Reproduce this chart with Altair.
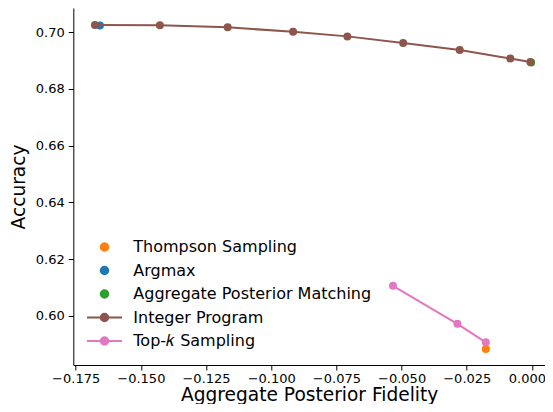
import altair as alt
import pandas as pd

# ---- data ----
series_names = ["Thompson Sampling", "Argmax", "Aggregate Posterior Matching",
                "Integer Program", "Top-𝑘 Sampling"]
series_colors = ["#ff7f0e", "#1f77b4", "#2ca02c", "#8c564b", "#e377c2"]

ts_x = [-0.0177]
ts_y = [0.5883]
argmax_x = [-0.1657]
argmax_y = [0.7023]
apm_x = [-0.0003]
apm_y = [0.6893]
ip_x = [-0.1676, -0.1427, -0.1167, -0.0916, -0.0708, -0.0494, -0.0277, -0.0083, -0.0006]
ip_y = [0.7025, 0.7024, 0.7017, 0.7001, 0.6985, 0.6962, 0.6937, 0.6907, 0.6895]
topk_x = [-0.0533, -0.0286, -0.0177]
topk_y = [0.6106, 0.5972, 0.5907]

x_ticks = [-0.175, -0.150, -0.125, -0.100, -0.075, -0.050, -0.025, 0.0]
y_ticks = [0.60, 0.62, 0.64, 0.66, 0.68, 0.70]

rows = []
for name, xs, ys in zip(series_names, [ts_x, argmax_x, apm_x, ip_x, topk_x],
                        [ts_y, argmax_y, apm_y, ip_y, topk_y]):
    for xv, yv in zip(xs, ys):
        rows.append({"series": name, "x": xv, "y": yv})
df = pd.DataFrame(rows)

FONT = "DejaVu Sans"
dot = "M-0.269,0A0.269,0.269,0,1,1,0.269,0A0.269,0.269,0,1,1,-0.269,0Z"
linedot = "M-1.25,0H1.25" + dot
shapes = [dot, dot, dot, linedot, linedot]

xscale = alt.Scale(domain=[-0.1759, 0.0050], nice=False, zero=False)
yscale = alt.Scale(domain=[0.5827, 0.7085], nice=False, zero=False)
cscale = alt.Scale(domain=series_names, range=series_colors)

xaxis = alt.Axis(values=x_ticks, format=".3f", title="Aggregate Posterior Fidelity",
                 grid=False, tickSize=5, labelPadding=2.5,
                 labelOffset={"condition": {"test": "datum.value === 0", "value": -5}, "value": 0},
                 titleY=35.8, titleBaseline="alphabetic")
yaxis = alt.Axis(values=y_ticks, format=".2f", title="Accuracy",
                 grid=False, tickSize=5, labelPadding=4, titlePadding=7)

base = alt.Chart(df).encode(
    x=alt.X("x:Q", scale=xscale, axis=xaxis),
    y=alt.Y("y:Q", scale=yscale, axis=yaxis),
    color=alt.Color("series:N", scale=cscale, legend=None),
)

def only(names):
    return alt.FieldOneOfPredicate(field="series", oneOf=names)

scatter = base.transform_filter(only(series_names[:3])).mark_circle(size=64, opacity=1)
ip_line = base.transform_filter(only([series_names[3]])).mark_line(strokeWidth=2)
ip_pts = base.transform_filter(only([series_names[3]])).mark_circle(size=64, opacity=1)
tk_line = base.transform_filter(only([series_names[4]])).mark_line(strokeWidth=2)
tk_pts = base.transform_filter(only([series_names[4]])).mark_circle(size=64, opacity=1)

leg = dict(title=None, orient="none", legendX=16.2, legendY=224, symbolSize=784,
           symbolStrokeWidth=2, symbolOpacity=1, labelFontSize=16, labelFont=FONT,
           labelColor="black", labelOffset=13.8, rowPadding=0.5, padding=0, labelLimit=500)

legend_layer = alt.Chart(df).mark_point(filled=True, opacity=0).encode(
    x=alt.X("x:Q", scale=xscale),
    y=alt.Y("y:Q", scale=yscale),
    fill=alt.Fill("series:N", scale=alt.Scale(domain=series_names, range=series_colors),
                  legend=alt.Legend(**leg)),
    stroke=alt.Stroke("series:N", scale=alt.Scale(domain=series_names, range=series_colors),
                      legend=alt.Legend(**leg)),
    shape=alt.Shape("series:N", scale=alt.Scale(domain=series_names, range=shapes),
                    legend=alt.Legend(**leg)),
)

chart = alt.layer(legend_layer, scatter, ip_line, ip_pts, tk_line, tk_pts).properties(
    width=471.7, height=357,
    autosize=alt.AutoSizeParams(type="none"),
    padding={"left": 65.3, "top": 0, "right": 0, "bottom": 39},
    background="white",
).configure_view(stroke=None).configure_axis(
    labelFont=FONT, titleFont=FONT, labelFontSize=13, titleFontSize=18.6,
    titleFontWeight="normal", labelColor="black", titleColor="black",
    domainColor="black", tickColor="black", domainWidth=1, tickWidth=1,
)

chart.save("out.html", embed_options={"renderer": "svg", "actions": False})
